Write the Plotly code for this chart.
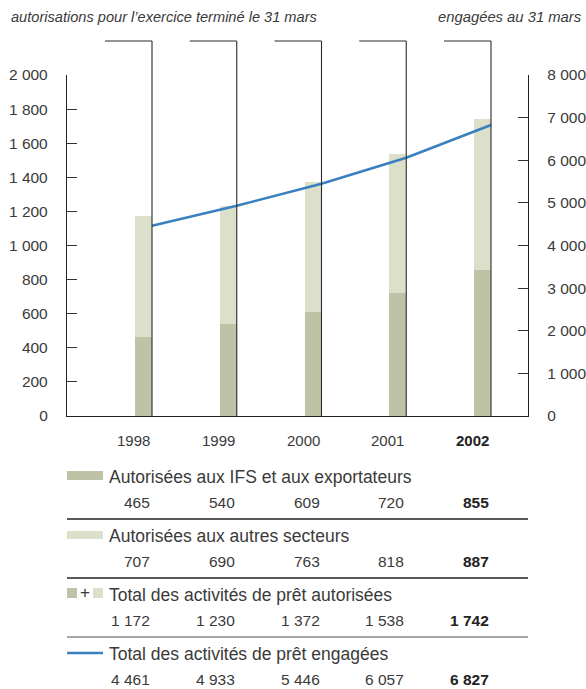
import plotly.graph_objects as go

W, H = 586, 689

years = [1998, 1999, 2000, 2001, 2002]
year_labels = ["1998", "1999", "2000", "2001", "2002"]
autorisees_ifs = [465, 540, 609, 720, 855]
autorisees_autres = [707, 690, 763, 818, 887]
total_autorisees = [1172, 1230, 1372, 1538, 1742]
total_engagees = [4461, 4933, 5446, 6057, 6827]

left_ticks = [0, 200, 400, 600, 800, 1000, 1200, 1400, 1600, 1800, 2000]
right_ticks = [0, 1000, 2000, 3000, 4000, 5000, 6000, 7000, 8000]

row_labels = [
    "Autorisées aux IFS et aux exportateurs",
    "Autorisées aux autres secteurs",
    "Total des activités de prêt autorisées",
    "Total des activités de prêt engagées",
]
header_left = "autorisations pour l’exercice terminé le 31 mars"
header_right = "engagées au 31 mars"

DARK = "#BEC2A6"
LIGHT = "#DCE0CA"
BLUE = "#3A80C0"
TXT = "#3a3a3a"
FONT = "Liberation Sans"


def fmt(v):
    return f"{v:,}".replace(",", " ")


def py(p):
    return 1 - p / H


def px(p):
    return p / W


# plot area in pixels
X0, X1 = 67, 528
Y_TOP, Y_BOT = 75, 416
BAR_W = 0.2
PX_PER_YEAR = 84.75
x_first_px = 152
xr0 = years[0] + (X0 - x_first_px) / PX_PER_YEAR
xr1 = years[0] + (X1 - x_first_px) / PX_PER_YEAR

fig = go.Figure()
fig.add_trace(go.Bar(x=years, y=autorisees_ifs, width=BAR_W, offset=-BAR_W,
                     marker=dict(color=DARK, line=dict(width=0)), name=row_labels[0]))
fig.add_trace(go.Bar(x=years, y=autorisees_autres, width=BAR_W, offset=-BAR_W,
                     marker=dict(color=LIGHT, line=dict(width=0)), name=row_labels[1]))
fig.add_trace(go.Scatter(x=years, y=total_engagees, yaxis="y2", mode="lines",
                         line=dict(color=BLUE, width=2.6), name=row_labels[3]))

shapes = []
annotations = []

# bracket lines from above the chart down to each bar's right edge
for yr in years:
    shapes.append(dict(type="line", xref="x", yref="paper", x0=yr, x1=yr,
                       y0=py(Y_BOT), y1=py(41), line=dict(color="#2b2b2b", width=1.1),
                       layer="above"))
    shapes.append(dict(type="line", xref="x", yref="paper", x0=yr - 47 / PX_PER_YEAR, x1=yr,
                       y0=py(41), y1=py(41), line=dict(color="#2b2b2b", width=1.1),
                       layer="above"))

# year labels
for i, yr in enumerate(years):
    t = year_labels[i]
    if i == len(years) - 1:
        t = "<b>" + t + "</b>"
    annotations.append(dict(x=yr, y=py(440), xref="x", yref="paper", text=t, showarrow=False,
                            xanchor="right", yanchor="middle",
                            font=dict(family=FONT, size=15, color="#222" if i == 4 else TXT)))

# headers
annotations.append(dict(x=px(9), y=py(17), xref="paper", yref="paper", text="<i>" + header_left + "</i>",
                        showarrow=False, xanchor="left", yanchor="middle",
                        font=dict(family=FONT, size=14.6, color=TXT)))
annotations.append(dict(x=px(584), y=py(17), xref="paper", yref="paper", text="<i>" + header_right + "</i>",
                        showarrow=False, xanchor="right", yanchor="middle",
                        font=dict(family=FONT, size=14.8, color=TXT)))

# table rows
label_y = [477, 536, 595, 654]
value_y = [502, 561, 620, 679]
row_values = [autorisees_ifs, autorisees_autres, total_autorisees, total_engagees]
for r in range(4):
    annotations.append(dict(x=px(107), y=py(label_y[r]), xref="paper", yref="paper", text=row_labels[r],
                            showarrow=False, xanchor="left", yanchor="middle",
                            font=dict(family=FONT, size=17.5, color=TXT)))
    for i, yr in enumerate(years):
        t = fmt(row_values[r][i])
        if i == len(years) - 1:
            t = "<b>" + t + "</b>"
        annotations.append(dict(x=yr, y=py(value_y[r]), xref="x", yref="paper", text=t, showarrow=False,
                                xanchor="right", yanchor="middle",
                                font=dict(family=FONT, size=15.5, color="#222" if i == 4 else TXT)))

# separators
for yy, col in [(519, "#222"), (578, "#222"), (637, "#8a8a8a")]:
    shapes.append(dict(type="line", xref="paper", yref="paper", x0=px(X0), x1=px(X1),
                       y0=py(yy), y1=py(yy), line=dict(color=col, width=1.3)))

# legend swatches
shapes.append(dict(type="rect", xref="paper", yref="paper", x0=px(67), x1=px(103),
                   y0=py(480), y1=py(471), fillcolor=DARK, line=dict(width=0)))
shapes.append(dict(type="rect", xref="paper", yref="paper", x0=px(67), x1=px(103),
                   y0=py(539), y1=py(531), fillcolor=LIGHT, line=dict(width=0)))
shapes.append(dict(type="rect", xref="paper", yref="paper", x0=px(67), x1=px(77),
                   y0=py(598), y1=py(588), fillcolor=DARK, line=dict(width=0)))
shapes.append(dict(type="rect", xref="paper", yref="paper", x0=px(93), x1=px(103),
                   y0=py(598), y1=py(588), fillcolor=LIGHT, line=dict(width=0)))
annotations.append(dict(x=px(85), y=py(592), xref="paper", yref="paper", text="+", showarrow=False,
                        xanchor="center", yanchor="middle", font=dict(family=FONT, size=17, color=TXT)))
shapes.append(dict(type="line", xref="paper", yref="paper", x0=px(67), x1=px(103),
                   y0=py(653), y1=py(653), line=dict(color=BLUE, width=2.6)))

fig.update_layout(
    width=W, height=H, autosize=False,
    margin=dict(l=0, r=0, t=0, b=0),
    paper_bgcolor="white", plot_bgcolor="white",
    barmode="stack", showlegend=False,
    shapes=shapes, annotations=annotations,
    xaxis=dict(domain=[px(X0), px(X1)], range=[xr0, xr1], showticklabels=False, ticks="",
               showgrid=False, zeroline=False, showline=True, linecolor="#222", linewidth=1.3,
               fixedrange=True, automargin=False),
    yaxis=dict(domain=[py(Y_BOT), py(Y_TOP)], range=[0, 2000], tickvals=left_ticks,
               ticktext=[fmt(v) for v in left_ticks], ticks="inside", ticklen=10, tickwidth=1.2,
               tickcolor="#333", showline=True, linecolor="#222", linewidth=1.3,
               showgrid=False, zeroline=False, ticklabelstandoff=15,
               tickfont=dict(family=FONT, size=15.5, color=TXT), automargin=False),
    yaxis2=dict(domain=[py(Y_BOT), py(Y_TOP)], range=[0, 8000], overlaying="y", side="right",
                anchor="x", tickvals=right_ticks, ticktext=[fmt(v) for v in right_ticks],
                ticks="inside", ticklen=10, tickwidth=1.2, tickcolor="#333", showline=True,
                linecolor="#222", linewidth=1.3, showgrid=False, zeroline=False,
                ticklabelstandoff=15, tickfont=dict(family=FONT, size=15.5, color=TXT),
                automargin=False),
)

fig.write_html("out.html")
